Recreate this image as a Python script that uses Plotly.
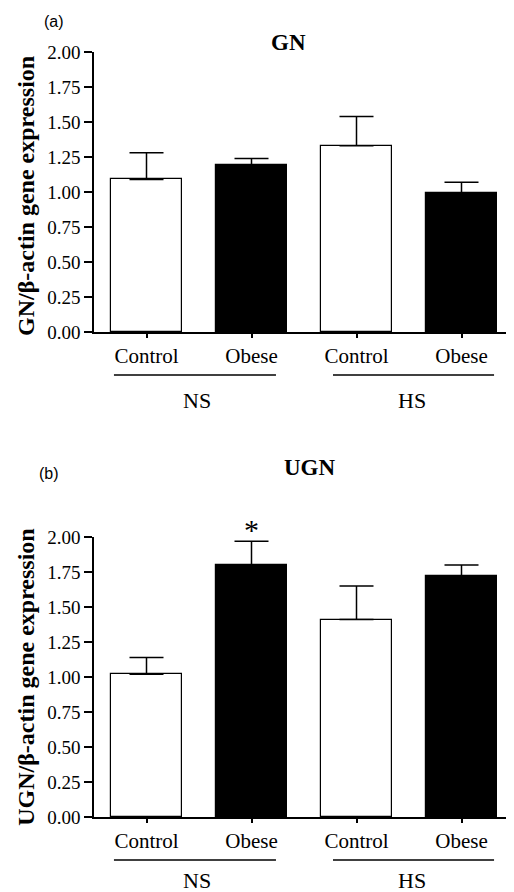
import plotly.graph_objects as go
from plotly.subplots import make_subplots

categories = ["Control", "Obese", "Control", "Obese"]
groups = ["NS", "HS"]
bar_colors = ["white", "black", "white", "black"]

gn_mean = [1.09, 1.19, 1.33, 0.99]
gn_sem = [0.19, 0.05, 0.21, 0.08]

ugn_mean = [1.02, 1.80, 1.41, 1.72]
ugn_sem = [0.12, 0.17, 0.24, 0.08]

y_ticks = [0, 0.25, 0.5, 0.75, 1.0, 1.25, 1.5, 1.75, 2.0]
y_ticktext = ["%.2f" % v for v in y_ticks]

SERIF = "Liberation Serif, Times New Roman, serif"
SANS = "Liberation Sans, Arial, sans-serif"

fig = make_subplots(rows=2, cols=1)
xpos = list(range(len(categories)))

for row, (mean, sem) in enumerate([(gn_mean, gn_sem), (ugn_mean, ugn_sem)], start=1):
    fig.add_trace(go.Bar(
        x=xpos, y=mean, width=0.667,
        marker=dict(color=bar_colors, line=dict(color="black", width=1.2)),
        error_y=dict(type="data", array=sem, arrayminus=[0] * len(sem),
                     symmetric=False, color="black", thickness=1.5, width=17),
        showlegend=False,
    ), row=row, col=1)

# page body has an 8px margin, so the figure is sized to fit the window
W, H = 506, 884
t, b = 44, 75
ph = H - t - b
d = 280 / ph

fig.update_layout(
    width=W, height=H,
    margin=dict(l=86, r=0, t=t, b=b),
    plot_bgcolor="white", paper_bgcolor="white",
    bargap=0,
    font=dict(family=SERIF, color="black"),
)

for ax, dom in [("yaxis", [1 - d, 1]), ("yaxis2", [0, d])]:
    fig.layout[ax].update(
        domain=dom, range=[0, 2], tickvals=y_ticks, ticktext=y_ticktext,
        showline=True, linecolor="black", linewidth=1.5,
        ticks="outside", ticklen=8, tickwidth=1.5, tickcolor="black",
        showgrid=False, zeroline=False,
        tickfont=dict(family=SERIF, size=19, color="black"),
    )
for ax in ["xaxis", "xaxis2"]:
    fig.layout[ax].update(
        range=[-0.5, 3.5], tickvals=xpos, ticktext=categories,
        showline=True, linecolor="black", linewidth=1.5,
        ticks="outside", ticklen=4, tickwidth=1.5, tickcolor="black",
        showgrid=False, zeroline=False,
        tickfont=dict(family=SERIF, size=21, color="black"),
    )

group_spans = [(-0.31, 1.233), (1.776, 3.31)]
group_centers = [0.48, 2.53]
group_label_y = [-68 / 280, -63 / 280]

for r, (xr, yr) in enumerate([("x", "y"), ("x2", "y2")]):
    for gi, g in enumerate(groups):
        x0, x1 = group_spans[gi]
        fig.add_shape(type="line", xref=xr, yref=yr + " domain",
                      x0=x0, x1=x1, y0=-43 / 280, y1=-43 / 280,
                      line=dict(color="black", width=1.5))
        fig.add_annotation(xref=xr, yref=yr + " domain", x=group_centers[gi],
                           y=group_label_y[r], text=g, showarrow=False,
                           yanchor="middle", xanchor="center",
                           font=dict(family=SERIF, size=22, color="black"))

titles = [("GN", 0.464, (332 - 43) / 280, "(a)", -0.095, (332 - 22) / 280, (332 - 196) / 280, "GN/β-actin gene expression"),
          ("UGN", 0.514, 350 / 280, "(b)", -0.108, (816.7 - 473) / 280, (816.7 - 676.5) / 280, "UGN/β-actin gene expression")]
for r, (ttl, tx, ty, lab, lx, ly, yty, ytitle) in enumerate(titles):
    yr = "y domain" if r == 0 else "y2 domain"
    fig.add_annotation(xref="paper", yref=yr, x=tx, y=ty, text="<b>%s</b>" % ttl,
                       showarrow=False, xanchor="center", yanchor="middle",
                       font=dict(family=SERIF, size=23, color="black"))
    fig.add_annotation(xref="paper", yref=yr, x=lx, y=ly, text=lab,
                       showarrow=False, xanchor="center", yanchor="middle",
                       font=dict(family=SANS, size=16, color="black"))
    fig.add_annotation(xref="paper", yref=yr, x=(26 - 94) / 420, y=yty,
                       text="<b>%s</b>" % ytitle, textangle=-90,
                       showarrow=False, xanchor="center", yanchor="middle",
                       font=dict(family=SERIF, size=24, color="black"))

# significance marker
fig.add_annotation(xref="x2", yref="y2", x=1, y=ugn_mean[1] + ugn_sem[1],
                   text="*", showarrow=False, yanchor="middle", yshift=12,
                   font=dict(family=SERIF, size=30, color="black"))

fig.write_html("out.html")
